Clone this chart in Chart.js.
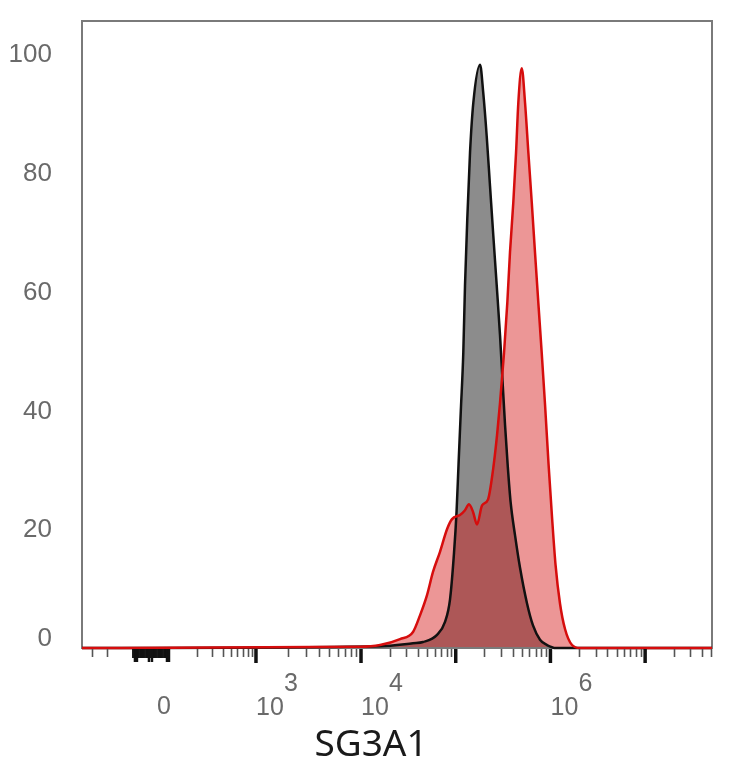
<!DOCTYPE html>
<html>
<head>
<meta charset="utf-8">
<script src="https://cdn.jsdelivr.net/npm/chart.js@4.4.1/dist/chart.umd.min.js"></script>
<style>
  html, body { margin: 0; padding: 0; background: #fff; }
  #wrap { width: 734px; height: 768px; }
</style>
</head>
<body>
<div id="wrap"><canvas id="histChart" width="734" height="768"></canvas></div>
<script>
// x values are display positions in decades (10^4 -> 4, 10^5 -> 5 ...), y is % of max
const controlPos = [1.054, 4.201, 4.549, 4.655, 4.803, 4.887, 4.940, 4.982, 5.009, 5.030, 5.054, 5.080, 5.098, 5.122, 5.151, 5.186, 5.257, 5.291, 5.327, 5.362, 5.397, 5.433, 5.468, 5.494, 5.521, 5.550, 5.580, 5.626, 5.679, 5.753, 5.816, 5.890, 5.964, 6.059, 7.706];
const controlCount = [0, 0.3, 0.8, 1.0, 2.2, 4.4, 8.2, 16, 23, 31, 40, 49.7, 61, 72.2, 83.4, 91.8, 98.2, 93.4, 86.2, 77.8, 69.4, 61, 52.6, 45, 37.5, 30.5, 24.5, 19, 13.5, 7.5, 3.8, 1.4, 0.5, 0, 0];

const sg3a1Pos = [1.054, 3.989, 4.201, 4.412, 4.549, 4.623, 4.697, 4.760, 4.834, 4.908, 4.961, 5.045, 5.098, 5.140, 5.183, 5.225, 5.278, 5.341, 5.394, 5.436, 5.468, 5.510, 5.545, 5.573, 5.608, 5.637, 5.661, 5.697, 5.732, 5.767, 5.803, 5.837, 5.872, 5.908, 5.943, 5.980, 6.017, 6.054, 6.101, 6.154, 6.228, 6.312, 7.706];
const sg3a1Count = [0, 0.2, 0.5, 1.5, 2.7, 5.5, 8.9, 12.8, 16.2, 20, 21.7, 22.4, 23.2, 24.2, 22.9, 20.8, 24, 25, 30, 35.8, 41.3, 49.7, 58.2, 66.6, 75, 83.4, 91.8, 97.6, 91.8, 83.4, 75, 66.6, 58.2, 49.7, 41, 31, 22, 14, 7.5, 3.2, 0.5, 0, 0];

const yTickValues = [0, 20, 40, 60, 80, 100];
const xMajorPos = [1.793, 2.891, 4, 5, 6, 7];
const xMajorBase = ['0', '10', '10', '', '10', ''];
const xMajorExp = ['', '3', '4', '', '6', ''];
const axisTitle = 'SG3A1';

function toPoints(xs, ys) {
    return xs.map((x, i) => ({ x: x, y: ys[i] }));
}

// minor tick positions (biexponential-looking axis)
function minorTicks() {
    const out = [];
    const zero = xMajorPos[0], d3 = xMajorPos[1], low = 2.004;
    for (let k = 2; k <= 9; k++) {
        const p = low + Math.log10(k) * (d3 - low);
        out.push(p);
        const m = zero - (p - zero);
        if (m > 1.054) out.push(m);
        out.push(d3 + Math.log10(k) * (4 - d3));
        for (let n = 4; n <= 7; n++) {
            const q = n + Math.log10(k);
            if (q < 7.7) out.push(q);
        }
    }
    return out;
}

const axisDecor = {
    id: 'axisDecor',
    beforeDatasetsDraw(chart) {
        const { ctx, chartArea: a } = chart;
        ctx.save();
        ctx.strokeStyle = '#7a7a7a';
        ctx.lineWidth = 2;
        ctx.strokeRect(a.left, a.top, a.right - a.left, a.bottom - a.top);
        ctx.restore();
    },
    afterDraw(chart) {
        const { ctx, chartArea: a, scales } = chart;
        const xs = scales.x, ys = scales.y;
        const base = a.bottom + 1;
        ctx.save();

        // minor ticks
        ctx.strokeStyle = '#555';
        ctx.lineWidth = 1.6;
        minorTicks().forEach(v => {
            const px = Math.round(xs.getPixelForValue(v)) + 0.5;
            ctx.beginPath();
            ctx.moveTo(px, base);
            ctx.lineTo(px, base + 8);
            ctx.stroke();
        });

        // dense cluster around zero
        const c0 = xs.getPixelForValue(1.592), c1 = xs.getPixelForValue(1.983);
        ctx.strokeStyle = '#111';
        ctx.lineWidth = 1.8;
        for (let px = c0; px <= c1; px += 1.2) {
            ctx.beginPath();
            ctx.moveTo(px, base);
            ctx.lineTo(px, base + 9);
            ctx.stroke();
        }
        ctx.lineWidth = 2.5;
        [c0 + 2, c0 + 4, c0 + 16, c0 + 19, c1 - 3, c1 - 1].forEach(px => {
            ctx.beginPath();
            ctx.moveTo(px, base);
            ctx.lineTo(px, base + 13);
            ctx.stroke();
        });

        // major ticks
        ctx.lineWidth = 3.5;
        xMajorPos.slice(1).forEach(v => {
            const px = xs.getPixelForValue(v);
            ctx.beginPath();
            ctx.moveTo(px, base);
            ctx.lineTo(px, base + 14);
            ctx.stroke();
        });

        // x tick labels
        ctx.fillStyle = '#6a6a6a';
        ctx.font = '25px "Liberation Sans", Arial, sans-serif';
        ctx.textAlign = 'center';
        ctx.textBaseline = 'middle';
        xMajorPos.forEach((v, i) => {
            const px = xs.getPixelForValue(v);
            if (i === 0) {
                ctx.fillText(xMajorBase[i], px + 12, 707);
            } else if (xMajorBase[i]) {
                ctx.fillText(xMajorBase[i], px + 14, 708);
                ctx.fillText(xMajorExp[i], px + 35, 684);
            }
        });

        // y tick labels
        ctx.font = '26px "Liberation Sans", Arial, sans-serif';
        ctx.textAlign = 'right';
        yTickValues.forEach(v => {
            let py = ys.getPixelForValue(v);
            if (v === 0) py -= 10;
            ctx.fillText(String(v), 52, py + 1);
        });

        // axis title
        ctx.fillStyle = '#1a1a1a';
        ctx.font = '37px "Noto Sans", "Open Sans", sans-serif';
        ctx.textAlign = 'center';
        ctx.fillText(axisTitle, 371, 745);
        ctx.restore();
    }
};

document.addEventListener('DOMContentLoaded', function () {
    const ctx = document.getElementById('histChart').getContext('2d');
    const histChart = new Chart(ctx, {
        type: 'line',
        data: {
            datasets: [{
                label: 'SG3A1',
                data: toPoints(sg3a1Pos, sg3a1Count),
                borderColor: '#d60d0d',
                backgroundColor: 'rgba(212, 22, 22, 0.45)',
                borderWidth: 2.5,
                fill: 'origin',
                pointRadius: 0,
                cubicInterpolationMode: 'monotone',
                clip: false
            }, {
                label: 'Control',
                data: toPoints(controlPos, controlCount),
                borderColor: '#111111',
                backgroundColor: 'rgba(0, 0, 0, 0.45)',
                borderWidth: 2.5,
                fill: 'origin',
                pointRadius: 0,
                cubicInterpolationMode: 'monotone',
                clip: false
            }]
        },
        options: {
            responsive: false,
            animation: false,
            layout: { padding: { left: 0, right: 22, top: 21, bottom: 0 } },
            plugins: {
                legend: { display: false },
                tooltip: { enabled: false },
                filler: { drawTime: 'beforeDatasetsDraw' }
            },
            scales: {
                x: {
                    type: 'linear',
                    min: 1.054,
                    max: 7.706,
                    grid: { display: false },
                    border: { display: false },
                    ticks: { display: false },
                    afterFit: function (scale) { scale.height = 120; }
                },
                y: {
                    min: 0,
                    max: 105.56,
                    grid: { display: false },
                    border: { display: false },
                    ticks: { display: false },
                    afterFit: function (scale) { scale.width = 82; }
                }
            }
        },
        plugins: [axisDecor]
    });
});
</script>
</body>
</html>
